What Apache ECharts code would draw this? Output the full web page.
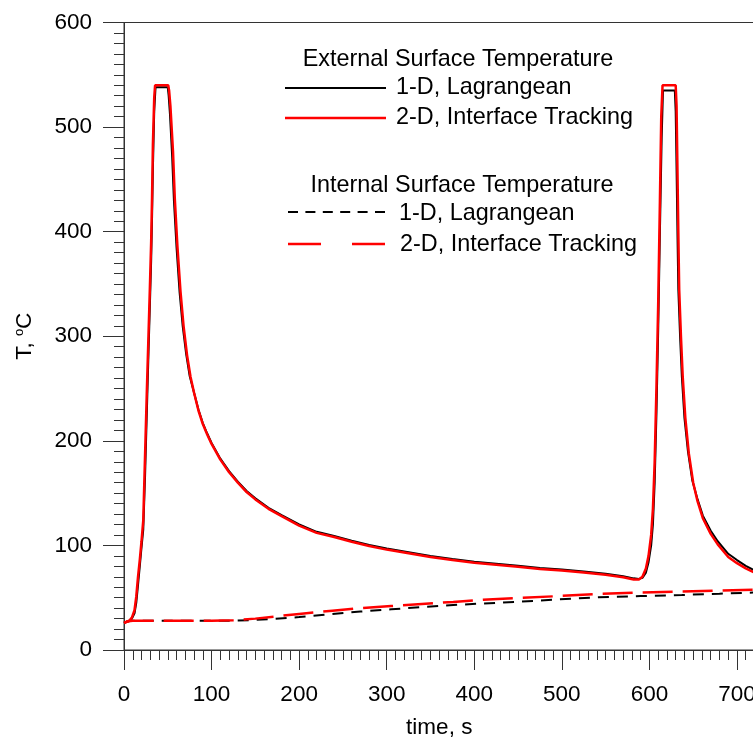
<!DOCTYPE html>
<html><head><meta charset="utf-8">
<script src="https://cdn.jsdelivr.net/npm/echarts@6/dist/echarts.min.js"></script>
<style>html,body{margin:0;padding:0;background:#fff}#c{width:753px;height:740px}</style>
</head><body><div id="c"></div>
<script>
// External surface temperature, 2-D interface tracking (red solid)
const extTime2D = [0,3,6,9,12,14,16,18,20,22,24,26,28,29.5,31,32,33,34.5,35.5,50.5,51.5,53,56,58,61,64.5,68,72,76,80,85,90,95,100,110,120,130,140,150,165,180,200,220,240,260,280,300,325,350,375,400,425,450,475,500,525,550,570,582,588,592,596,599,602,604,606,608,610,612,613.5,615,630,631,632,633,634,636,638,641,645,650,655,661,670,678,685,690,700,710,720];
const extTemp2D = [26,27,28,31,38,51,70,86,104,124,185,245,302,345,390,432,483,528,540,540,535,520,476,432,386,343,310,282,261,246,229,216,206,197,182,170,160,151,144,135,128,119,112,108,103.5,99.5,96,92.5,89,86,83.5,81.5,79.5,77.5,76,74,72,69.5,67.5,67.5,70,78,90,110,135,180,250,330,430,510,540,540,520,460,400,345,300,262,222,188,160,142,126,111,101,94,89,83,78,74];
// External surface temperature, 1-D Lagrangean (black solid)
const extTime1D = [0,3,6,9,12,14,16,18,20,22,24,26,28,29.5,31,32,33,34.5,36,50,51,52.5,55,57,60,63.5,67,71,75,80,85,90,95,100,110,120,130,140,150,165,180,200,220,240,260,280,300,325,350,375,400,425,450,475,500,525,550,570,582,588,592,596,599,602,604,606,608,610,612,614,615.5,629,630,631,632,633,635,637,640,644,649,655,661,670,678,685,690,700,710,720];
const extTemp1D = [26,27,28,30,35,45,62,80,98,115,165,225,285,328,372,412,460,515,538,538,530,512,472,430,385,342,310,283,262,246,230,217,207,198,183,171,161,152,145,136,129,120,113,109,104.5,100.5,97,93.5,90,87,84.5,82.5,80.5,78.5,77,75,73,70.5,68.5,68,69,74,84,100,120,160,225,305,400,490,535,535,515,460,400,345,300,262,222,190,162,144,128.5,114,104,97,92,86,80.5,76];
// Internal surface temperature, 2-D interface tracking (red long dash)
const intTime2D = [0,5,10,50,100,125,150,172,200,238,270,305,340,376,410,447,495,542,590,637,680,720];
const intTemp2D = [26,27.5,28,28,28,28.5,30,32,34.5,37.6,40,42,44,46,48,49.5,51.5,53.6,55,55.8,56.8,57.6];
// Internal surface temperature, 1-D Lagrangean (black dash)
const intTime1D = [0,5,10,50,100,125,150,172,200,238,270,305,340,376,410,447,495,542,590,637,680,720];
const intTemp1D = [26,27.5,28,28,28,28,28.8,29.7,31.5,34.4,36.8,38.9,41,43,44.5,46,48.3,50.4,51.6,52.6,53.8,55];

const xMin = 0, xMax = 720, xStep = 100;
const yMin = 0, yMax = 600, yStep = 100;

const FONT = "'Liberation Sans', Arial, sans-serif";
const pairs = (t, v) => t.map((x, i) => [x, v[i]]);

const chart = echarts.init(document.getElementById('c'), null, {renderer: 'canvas'});
const axisCol = '#333';
chart.setOption({
  animation: false,
  backgroundColor: '#fff',
  grid: {left: 124, top: 22.5, right: -1.5, bottom: 90, containLabel: false, outerBoundsMode: 'none',
    show: true, borderColor: axisCol, borderWidth: 1, backgroundColor: 'transparent'},
  xAxis: {
    type: 'value', min: xMin, max: xMax, interval: xStep,
    name: 'time, s', nameLocation: 'middle', nameGap: 66,
    nameTextStyle: {fontFamily: FONT, fontSize: 22.5, color: '#000'},
    axisLine: {show: true, lineStyle: {color: axisCol, width: 1}},
    axisTick: {show: true, inside: false, length: 20, lineStyle: {color: axisCol, width: 1}},
    minorTick: {show: true, splitNumber: 10, length: 10, lineStyle: {color: axisCol, width: 1}},
    splitLine: {show: false},
    axisLabel: {margin: 33, fontFamily: FONT, fontSize: 22.5, color: '#000',
      formatter: v => (v % 100 === 0 && v <= 700) ? String(v) : ''},
  },
  yAxis: {
    type: 'value', min: yMin, max: yMax, interval: yStep,
    name: 'T, {s|o}C', nameLocation: 'middle', nameGap: 88,
    nameTextStyle: {fontFamily: FONT, fontSize: 22.5, color: '#000',
      rich: {s: {fontFamily: FONT, fontSize: 13, color: '#000', verticalAlign: 'top', padding: [0, 0, 10, 0]}}},
    axisLine: {show: true, lineStyle: {color: axisCol, width: 1}},
    axisTick: {show: true, inside: false, length: 21, lineStyle: {color: axisCol, width: 1}},
    minorTick: {show: true, splitNumber: 10, length: 10, lineStyle: {color: axisCol, width: 1}},
    splitLine: {show: false},
    axisLabel: {margin: 32, fontFamily: FONT, fontSize: 22.5, color: '#000'},
  },
  series: [
    {type: 'line', name: 'ext1D', data: pairs(extTime1D, extTemp1D), showSymbol: false, symbol: 'none',
      lineStyle: {color: '#000', width: 2}, z: 2},
    {type: 'line', name: 'ext2D', data: pairs(extTime2D, extTemp2D), showSymbol: false, symbol: 'none',
      lineStyle: {color: '#ff0000', width: 2.5}, z: 3},
    {type: 'line', name: 'int1D', data: pairs(intTime1D, intTemp1D), showSymbol: false, symbol: 'none',
      lineStyle: {color: '#000', width: 2, type: [11, 8]}, z: 2},
    {type: 'line', name: 'int2D', data: pairs(intTime2D, intTemp2D), showSymbol: false, symbol: 'none',
      lineStyle: {color: '#ff0000', width: 2.5, type: [30, 10]}, z: 3},
  ],
  graphic: [
    {type: 'text', x: 458, y: 60, style: {text: 'External Surface Temperature', font: '23.4px ' + FONT, fill: '#000', align: 'center', verticalAlign: 'middle'}},
    {type: 'line', shape: {x1: 285, y1: 88, x2: 386, y2: 88}, style: {stroke: '#000', lineWidth: 2}},
    {type: 'text', x: 396, y: 88, style: {text: '1-D, Lagrangean', font: '23.4px ' + FONT, fill: '#000', align: 'left', verticalAlign: 'middle'}},
    {type: 'line', shape: {x1: 285, y1: 118, x2: 386, y2: 118}, style: {stroke: '#ff0000', lineWidth: 2.5}},
    {type: 'text', x: 396, y: 118, style: {text: '2-D, Interface Tracking', font: '23.4px ' + FONT, fill: '#000', align: 'left', verticalAlign: 'middle'}},
    {type: 'text', x: 462, y: 186, style: {text: 'Internal Surface Temperature', font: '23.4px ' + FONT, fill: '#000', align: 'center', verticalAlign: 'middle'}},
    {type: 'line', shape: {x1: 288, y1: 212, x2: 385, y2: 212}, style: {stroke: '#000', lineWidth: 2, lineDash: [10, 7.4]}},
    {type: 'text', x: 399, y: 214, style: {text: '1-D, Lagrangean', font: '23.4px ' + FONT, fill: '#000', align: 'left', verticalAlign: 'middle'}},
    {type: 'line', shape: {x1: 288, y1: 244, x2: 385, y2: 244}, style: {stroke: '#ff0000', lineWidth: 2.5, lineDash: [33, 31]}},
    {type: 'text', x: 400, y: 245, style: {text: '2-D, Interface Tracking', font: '23.4px ' + FONT, fill: '#000', align: 'left', verticalAlign: 'middle'}},
  ]
});
</script></body></html>
